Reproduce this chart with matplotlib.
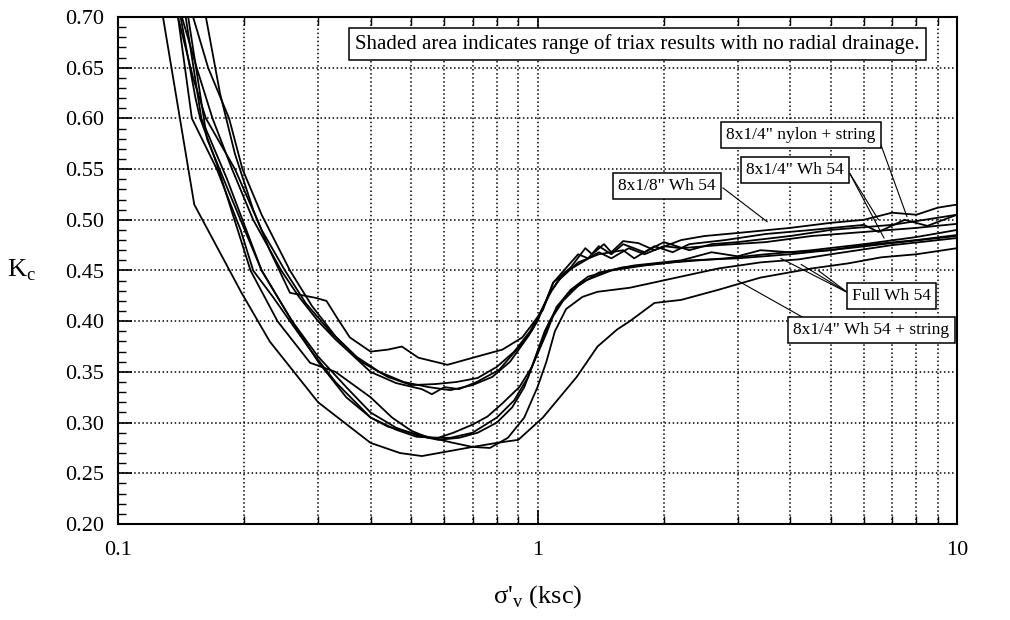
import matplotlib
matplotlib.use("Agg")
import matplotlib.pyplot as plt
from matplotlib.ticker import FixedLocator, LogLocator, NullFormatter, FormatStrFormatter

a0_x = [0.162, 0.175, 0.19, 0.21, 0.23, 0.257, 0.296, 0.314, 0.332, 0.357, 0.40, 0.44, 0.475, 0.52, 0.61,
        0.716, 0.825, 0.92, 1.03, 1.09, 1.15, 1.25, 1.32, 1.4, 1.5, 1.6, 1.8, 2.0, 2.3, 2.6, 3.0, 4.0, 5.0,
        7.0, 10]
a0_y = [0.70, 0.625, 0.565, 0.51, 0.47, 0.428, 0.423, 0.42, 0.404, 0.384, 0.370, 0.372, 0.375, 0.364, 0.357,
        0.365, 0.372, 0.384, 0.411, 0.438, 0.449, 0.466, 0.462, 0.474, 0.466, 0.476, 0.468, 0.478, 0.470, 0.476,
        0.478, 0.484, 0.49, 0.495, 0.505]

a1_x = [0.142, 0.154, 0.168, 0.187, 0.21, 0.245, 0.27, 0.30, 0.33, 0.357, 0.40, 0.46, 0.53, 0.56, 0.60, 0.65,
        0.716, 0.81, 0.905, 0.97, 1.05, 1.09, 1.2, 1.3, 1.35, 1.44, 1.5, 1.6, 1.74, 1.9, 2.2, 2.5, 3.0, 4.0,
        5.0, 6.0, 7.0, 8.0, 9.0, 10]
a1_y = [0.70, 0.65, 0.60, 0.55, 0.50, 0.45, 0.424, 0.40, 0.382, 0.369, 0.35, 0.339, 0.333, 0.328, 0.335, 0.333,
        0.34, 0.352, 0.375, 0.391, 0.421, 0.438, 0.453, 0.472, 0.466, 0.476, 0.468, 0.479, 0.477, 0.470, 0.48,
        0.484, 0.487, 0.492, 0.497, 0.50, 0.507, 0.505, 0.512, 0.515]

a2_x = [0.139, 0.151, 0.162, 0.19, 0.22, 0.25, 0.28, 0.32, 0.37, 0.42, 0.48, 0.55, 0.62, 0.70, 0.78, 0.86,
        0.95, 1.0, 1.06, 1.12, 1.25, 1.4, 1.6, 1.7, 1.9, 2.1, 2.3, 2.8, 3.5, 4.5, 6.0, 6.5, 7.5, 8.5, 10]
a2_y = [0.70, 0.64, 0.60, 0.55, 0.49, 0.45, 0.418, 0.39, 0.365, 0.35, 0.34, 0.335, 0.332, 0.337, 0.345, 0.36,
        0.385, 0.40, 0.425, 0.44, 0.458, 0.466, 0.47, 0.462, 0.474, 0.468, 0.476, 0.48, 0.486, 0.49, 0.495,
        0.488, 0.50, 0.494, 0.505]

a3_x = [0.151, 0.164, 0.184, 0.198, 0.22, 0.257, 0.29, 0.33, 0.38, 0.44, 0.50, 0.57, 0.64, 0.72, 0.80, 0.88,
        0.96, 1.02, 1.08, 1.16, 1.3, 1.4, 1.5, 1.65, 1.8, 2.0, 2.2, 2.7, 3.5, 4.5, 6.0, 8.0, 10]
a3_y = [0.70, 0.65, 0.60, 0.55, 0.505, 0.45, 0.415, 0.385, 0.36, 0.345, 0.337, 0.338, 0.34, 0.344, 0.355, 0.37,
        0.39, 0.41, 0.43, 0.448, 0.46, 0.468, 0.462, 0.472, 0.466, 0.474, 0.472, 0.475, 0.478, 0.484, 0.488,
        0.492, 0.496]

b1_x = [0.139, 0.15, 0.172, 0.196, 0.21, 0.234, 0.257, 0.287, 0.33, 0.40, 0.46, 0.515, 0.58, 0.63, 0.70, 0.76,
        0.825, 0.905, 0.97, 1.05, 1.11, 1.2, 1.32, 1.59, 2.1, 2.8, 3.5, 4.5, 6.0, 8.0, 10]
b1_y = [0.70, 0.60, 0.55, 0.49, 0.45, 0.424, 0.40, 0.372, 0.34, 0.305, 0.293, 0.286, 0.285, 0.29, 0.298, 0.306,
        0.319, 0.335, 0.355, 0.388, 0.414, 0.431, 0.444, 0.453, 0.458, 0.462, 0.466, 0.47, 0.476, 0.483, 0.49]

b2_x = [0.141, 0.153, 0.157, 0.172, 0.207, 0.24, 0.287, 0.33, 0.40, 0.45, 0.50, 0.55, 0.62, 0.70, 0.80, 0.88,
        0.95, 1.0, 1.07, 1.15, 1.25, 1.4, 1.7, 2.2, 2.6, 3.0, 3.4, 4.0, 5.0, 6.0, 8.0, 10]
b2_y = [0.70, 0.62, 0.60, 0.555, 0.45, 0.40, 0.359, 0.35, 0.325, 0.305, 0.292, 0.285, 0.285, 0.29, 0.305, 0.322,
        0.345, 0.37, 0.40, 0.42, 0.435, 0.448, 0.455, 0.46, 0.468, 0.464, 0.470, 0.468, 0.47, 0.475, 0.48, 0.485]

b3_x = [0.145, 0.158, 0.182, 0.22, 0.26, 0.30, 0.35, 0.40, 0.46, 0.52, 0.58, 0.65, 0.72, 0.80, 0.87, 0.93,
        0.98, 1.04, 1.1, 1.18, 1.3, 1.5, 1.8, 2.3, 3.0, 4.0, 5.5, 7.0, 10]
b3_y = [0.70, 0.60, 0.54, 0.45, 0.40, 0.365, 0.335, 0.31, 0.295, 0.287, 0.283, 0.285, 0.29, 0.30, 0.315, 0.335,
        0.36, 0.39, 0.41, 0.427, 0.44, 0.45, 0.455, 0.46, 0.462, 0.466, 0.472, 0.477, 0.484]

b4_x = [0.147, 0.163, 0.187, 0.22, 0.26, 0.30, 0.35, 0.40, 0.44, 0.50, 0.56, 0.63, 0.70, 0.77, 0.85, 0.93,
        1.0, 1.05, 1.1, 1.17, 1.28, 1.39, 1.66, 2.2, 2.7, 3.4, 4.2, 5.0, 7.0, 10]
b4_y = [0.70, 0.58, 0.52, 0.45, 0.40, 0.36, 0.325, 0.305, 0.296, 0.29, 0.285, 0.28, 0.276, 0.275, 0.285, 0.305,
        0.335, 0.36, 0.39, 0.412, 0.424, 0.429, 0.433, 0.444, 0.452, 0.458, 0.461, 0.466, 0.475, 0.482]

c_x = [0.128, 0.152, 0.197, 0.23, 0.30, 0.40, 0.47, 0.53, 0.60, 0.70, 0.80, 0.90, 1.03, 1.13, 1.24, 1.39,
       1.55, 1.66, 1.9, 2.2, 2.7, 3.4, 4.5, 5.5, 6.6, 8.0, 10]
c_y = [0.70, 0.515, 0.428, 0.38, 0.32, 0.28, 0.27, 0.267, 0.271, 0.276, 0.28, 0.283, 0.305, 0.325, 0.345, 0.375,
       0.392, 0.40, 0.418, 0.421, 0.431, 0.443, 0.452, 0.457, 0.463, 0.466, 0.472]

curves = [(a0_x, a0_y), (a1_x, a1_y), (a2_x, a2_y), (a3_x, a3_y),
          (b1_x, b1_y), (b2_x, b2_y), (b3_x, b3_y), (b4_x, b4_y), (c_x, c_y)]

plt.rcParams['font.family'] = ['Liberation Serif', 'DejaVu Serif']

fig = plt.figure(figsize=(10.1, 6.2), dpi=100)
ax = fig.add_axes([118 / 1010, 1 - 524 / 620, (957 - 118) / 1010, (524 - 17) / 620])

for xs, ys in curves:
    ax.plot(xs, ys, color='black', lw=1.3)

ax.set_xscale('log')
ax.set_xlim(0.1, 10)
ax.set_ylim(0.20, 0.70)

ax.xaxis.set_major_locator(FixedLocator([0.1, 1, 10]))
ax.xaxis.set_major_formatter(FormatStrFormatter('%g'))
ax.xaxis.set_minor_locator(LogLocator(base=10, subs=range(2, 10)))
ax.xaxis.set_minor_formatter(NullFormatter())
ax.yaxis.set_major_locator(FixedLocator([0.20, 0.25, 0.30, 0.35, 0.40, 0.45, 0.50, 0.55, 0.60, 0.65, 0.70]))
ax.yaxis.set_major_formatter(FormatStrFormatter('%.2f'))
ax.yaxis.set_minor_locator(FixedLocator([i / 100 for i in range(20, 71)]))

ax.tick_params(axis='x', which='both', direction='in', top=True, bottom=True, labelsize=16, pad=12)
ax.tick_params(axis='x', which='major', length=10, width=1.2)
ax.tick_params(axis='x', which='minor', length=6, width=1)
ax.tick_params(axis='y', which='both', direction='in', left=True, right=False, labelsize=16, pad=10)
ax.tick_params(axis='y', which='major', length=10, width=1.2)
ax.tick_params(axis='y', which='minor', length=6, width=1)

ax.grid(True, which='major', axis='both', linestyle=':', color='black', lw=1.1)
ax.grid(True, which='minor', axis='x', linestyle=':', color='black', lw=1.1)
for s in ax.spines.values():
    s.set_linewidth(1.5)

ax.set_xlabel("σ'$_\\mathregular{v}$ (ksc)", fontsize=19, labelpad=17)
ax.text(-0.115, 0.5, "K$_\\mathregular{c}$", transform=ax.transAxes, fontsize=19, ha='center', va='center')

box = dict(boxstyle='square,pad=0.3', fc='white', ec='black', lw=1.1)
ax.text(0.619, 0.947, "Shaded area indicates range of triax results with no radial drainage.",
        transform=ax.transAxes, fontsize=15, ha='center', va='center', bbox=box)

line = dict(arrowstyle='-', color='black', lw=0.8, shrinkA=0, shrinkB=0)
ax.annotate('', xy=(7.6, 0.503), xytext=(0.906, 0.763), textcoords='axes fraction', arrowprops=line)
ax.text(0.814, 0.767, '8x1/4" nylon + string', transform=ax.transAxes, fontsize=12.5,
        ha='center', va='center', bbox=box)

for tgt in [(6.5, 0.50), (6.7, 0.482)]:
    ax.annotate('', xy=tgt, xytext=(0.872, 0.692), textcoords='axes fraction', arrowprops=line)
ax.text(0.807, 0.698, '8x1/4" Wh 54', transform=ax.transAxes, fontsize=12.5,
        ha='center', va='center', bbox=box)

ax.annotate('', xy=(3.53, 0.498), xytext=(0.721, 0.663), textcoords='axes fraction', arrowprops=line)
ax.text(0.654, 0.667, '8x1/8" Wh 54', transform=ax.transAxes, fontsize=12.5,
        ha='center', va='center', bbox=box)

for tgt in [(3.8, 0.462), (4.25, 0.456), (4.67, 0.450)]:
    ax.annotate('', xy=tgt, xytext=(0.870, 0.456), textcoords='axes fraction', arrowprops=line)
ax.text(0.922, 0.45, 'Full Wh 54', transform=ax.transAxes, fontsize=12.5,
        ha='center', va='center', bbox=box)

ax.annotate('', xy=(3.0, 0.44), xytext=(0.818, 0.406), textcoords='axes fraction', arrowprops=line)
ax.text(0.898, 0.383, '8x1/4" Wh 54 + string', transform=ax.transAxes, fontsize=12.5,
        ha='center', va='center', bbox=box)

fig.savefig('out.png', dpi=100)
